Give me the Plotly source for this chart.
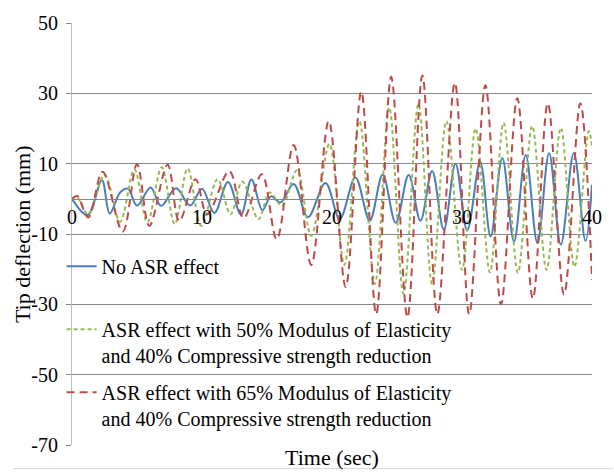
import plotly.graph_objects as go

# ---- data (extrema of each trace) ----
t_no_asr = [0, 1.2, 2.3, 2.9, 3.7, 4.3, 5.0, 6.05, 6.85, 8.0, 9.1, 10.0, 10.95, 12.0, 13.0,
            13.8, 14.65, 15.3, 16.05, 17.05, 18.15, 19.5, 20.6, 21.8, 22.9, 23.9, 24.9, 25.9,
            26.8, 27.7, 28.6, 29.5, 30.4, 31.4, 32.2, 33.1, 34.0, 34.9, 35.8, 36.7, 37.6,
            38.6, 39.5, 40]
v_no_asr = [0, -4.6, 5.3, -4.2, 1.8, 2.9, -1.9, 3.2, -2.0, 3.0, -1.9, 2.9, -4.0, 4.8, -4.5,
            5.5, -3.2, 0.7, -1.0, 4.2, -5.2, 4.5, -5.7, 6.1, -6.2, 6.9, -6.8, 6.8,
            -6.2, 7.9, -8.8, 10.0, -9.0, 10.5, -10.7, 11.6, -12.1, 12.5, -12.6, 13.0, -13.0,
            13.0, -12.0, 4.0]

t_asr50 = [0, 0.35, 1.25, 2.5, 3.7, 4.8, 5.8, 6.9, 7.9, 8.9, 9.95, 11.2, 12.2, 13.1, 14.35,
           15.2, 16.15, 17.3, 18.4, 19.8, 20.95, 22.1, 23.3, 24.4, 25.5, 26.65, 27.7, 28.8,
           30.0, 31.05, 32.15, 33.2, 34.3, 35.4, 36.5, 37.6, 38.65, 39.75, 40]
v_asr50 = [0, 0.6, -4.4, 6.8, -6.5, 8.4, -6.7, 9.0, -7.2, 8.6, -7.7, 5.6, -4.4, 4.9, -5.8,
           1.8, -1.9, 8.1, -10.5, 15.6, -18.8, 22.1, -24.2, 26.0, -27.0, 27.0, -24.2, 22.1,
           -20.2, 20.0, -20.9, 21.6, -21.0, 20.7, -20.2, 20.2, -19.3, 19.3, 15.0]

t_asr65 = [0, 0.4, 1.25, 2.35, 3.9, 5.0, 5.95, 7.35, 8.25, 9.5, 10.4, 12.1, 13.2, 14.6,
           15.75, 17.05, 18.4, 19.75, 21.05, 22.25, 23.4, 24.55, 25.8, 26.95, 28.1, 29.45,
           30.55, 31.8, 33.0, 34.25, 35.45, 36.6, 37.85, 39.1, 40]
v_asr65 = [0, 0.8, -5.3, 7.7, -9.3, 9.8, -7.7, 9.7, -6.3, 5.6, -4.4, 7.9, -5.5, 7.0,
           -11.5, 15.3, -18.8, 22.1, -25.1, 30.5, -32.8, 34.7, -33.7, 35.1, -32.8, 33.0,
           -32.8, 32.3, -30.0, 28.6, -28.4, 27.2, -27.2, 27.2, -23.0]

names = ["No ASR effect<br> ",
         "ASR effect with 50% Modulus of Elasticity<br>and 40% Compressive strength reduction",
         "ASR effect with 65% Modulus of Elasticity<br>and 40% Compressive strength reduction"]

x_ticks = [0, 10, 20, 30, 40]
y_ticks = [50, 30, 10, -10, -30, -50, -70]
y_tick_labels = ["50", "30", "10", "-10", "-30", "-50", "-70"]

FONT = "Liberation Serif"

fig = go.Figure()
fig.add_trace(go.Scatter(x=t_no_asr, y=v_no_asr, mode="lines", name=names[0], legendgroup="a",
                         line=dict(color="#4A7EBB", width=2, shape="spline", smoothing=1.0)))
fig.add_trace(go.Scatter(x=t_asr50, y=v_asr50, mode="lines", name=names[1], legendgroup="b",
                         line=dict(color="#98B954", width=2, dash="4px,3px", shape="spline", smoothing=1.0)))
fig.add_trace(go.Scatter(x=t_asr65, y=v_asr65, mode="lines", name=names[2], legendgroup="c",
                         line=dict(color="#BE4B48", width=2, dash="8px,5px", shape="spline", smoothing=1.0)))

fig.update_layout(
    width=614, height=472,
    margin=dict(l=72, r=21, t=15, b=27),
    paper_bgcolor="white", plot_bgcolor="white",
    font=dict(family=FONT, size=20, color="black"),
    showlegend=True,
    legend=dict(x=-0.02, y=0.47, xanchor="left", yanchor="top", bgcolor="rgba(0,0,0,0)",
                valign="top", tracegroupgap=8, font=dict(family=FONT, size=20, color="black")),
    xaxis=dict(range=[0, 40], tickvals=x_ticks, showgrid=False, zeroline=False,
               showline=True, linecolor="#878787", linewidth=1, ticks="",
               anchor="free", position=70 / 120, tickfont=dict(family=FONT, size=20)),
    yaxis=dict(range=[-70, 50], tickvals=y_ticks, ticktext=y_tick_labels,
               showgrid=True, gridcolor="#878787", gridwidth=1,
               zeroline=False, showline=True, linecolor="#BFBFBF", linewidth=1,
               ticks="outside", ticklen=5, tickcolor="#878787", ticklabelstandoff=4,
               tickfont=dict(family=FONT, size=20)),
    annotations=[
        dict(text="Time (sec)", xref="paper", yref="paper", x=0.5, y=(445 - 458) / 430,
             xanchor="center", yanchor="middle", showarrow=False, font=dict(family=FONT, size=22)),
        dict(text="Tip deflection (mm)", xref="paper", yref="paper", x=(22 - 72) / 521, y=0.5,
             xanchor="center", yanchor="middle", textangle=-90, showarrow=False,
             font=dict(family=FONT, size=22)),
    ],
    shapes=[dict(type="line", xref="paper", yref="paper", x0=(13 - 72) / 521, x1=(614 - 72) / 521,
                 y0=(445 - 469) / 430, y1=(445 - 469) / 430, line=dict(color="#D9D9D9", width=1))],
)

fig.write_html("out.html")
